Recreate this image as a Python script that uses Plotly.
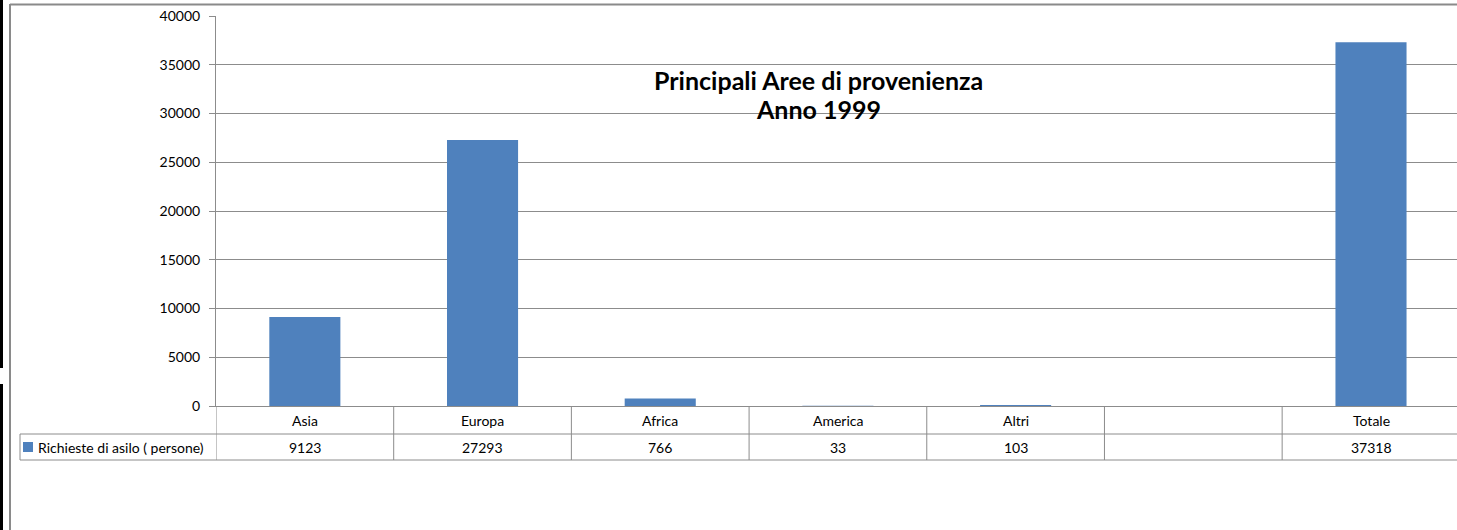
import plotly.graph_objects as go

# ---- data ----
categories = ["Asia", "Europa", "Africa", "America", "Altri", "", "Totale"]
values = [9123, 27293, 766, 33, 103, None, 37318]
value_labels = ["9123", "27293", "766", "33", "103", "", "37318"]
series_name = "Richieste di asilo ( persone)"
title_lines = ["Principali Aree di provenienza", "Anno 1999"]
y_ticks = [0, 5000, 10000, 15000, 20000, 25000, 30000, 35000, 40000]

W, H = 1457, 530
L, T, B = 216, 16, 124
PW = W - L
PH = H - T - B
BLUE = "#4F81BD"
GRID = "#8C8C8C"
FONT = "Lato"


def px_x(p):
    return (p - L) / PW


def px_y(p):
    return (H - B - p) / PH


x_idx = list(range(len(categories)))

fig = go.Figure()
fig.add_trace(go.Bar(
    x=x_idx, y=values, width=0.4, marker_color=BLUE, marker_line_width=0,
    name=series_name, showlegend=False, hoverinfo="skip"))

shapes = []
# table horizontal lines
for yp in (434, 460):
    shapes.append(dict(type="line", xref="paper", yref="paper",
                       x0=px_x(20), x1=1.01, y0=px_y(yp), y1=px_y(yp),
                       line=dict(color=GRID, width=1)))
# table vertical lines
for i in range(len(categories) + 1):
    shapes.append(dict(type="line", xref="x", yref="paper",
                       x0=i - 0.5, x1=i - 0.5, y0=0, y1=px_y(460),
                       line=dict(color=GRID, width=1)))
shapes.append(dict(type="line", xref="paper", yref="paper",
                   x0=px_x(20), x1=px_x(20), y0=px_y(434), y1=px_y(460),
                   line=dict(color=GRID, width=1)))
# legend key square
shapes.append(dict(type="rect", xref="paper", yref="paper",
                   x0=px_x(23), x1=px_x(33), y0=px_y(452), y1=px_y(442),
                   fillcolor=BLUE, line=dict(width=0)))
# chart frame
shapes.append(dict(type="line", xref="paper", yref="paper",
                   x0=px_x(10), x1=px_x(10), y0=px_y(4), y1=px_y(531),
                   line=dict(color="#8A8A8A", width=2)))
shapes.append(dict(type="line", xref="paper", yref="paper",
                   x0=px_x(10), x1=1.01, y0=px_y(4.5), y1=px_y(4.5),
                   line=dict(color="#8A8A8A", width=2)))
# dark strip at the left edge
shapes.append(dict(type="rect", xref="paper", yref="paper",
                   x0=px_x(0), x1=px_x(3), y0=px_y(0), y1=px_y(368),
                   fillcolor="black", line=dict(width=0)))
shapes.append(dict(type="rect", xref="paper", yref="paper",
                   x0=px_x(0), x1=px_x(3), y0=px_y(384), y1=px_y(531),
                   fillcolor="black", line=dict(width=0)))

annotations = []
for i, (c, v) in enumerate(zip(categories, value_labels)):
    annotations.append(dict(x=i, y=px_y(420), xref="x", yref="paper", text=c,
                            showarrow=False, font=dict(family=FONT, size=14, color="black"),
                            xanchor="center", yanchor="middle"))
    annotations.append(dict(x=i, y=px_y(447), xref="x", yref="paper", text=v,
                            showarrow=False, font=dict(family=FONT, size=14, color="black"),
                            xanchor="center", yanchor="middle"))
annotations.append(dict(x=px_x(36), y=px_y(447), xref="paper", yref="paper",
                        text=series_name, showarrow=False,
                        font=dict(family=FONT, size=14, color="black"),
                        xanchor="left", yanchor="middle"))
for k, (line, yc) in enumerate(zip(title_lines, (80, 109))):
    annotations.append(dict(x=px_x(818), y=px_y(yc), xref="paper", yref="paper",
                            text="<b>" + line + "</b>",
                            showarrow=False, align="center",
                            font=dict(family=FONT, size=25, color="black"),
                            xanchor="center", yanchor="middle"))

fig.update_layout(
    width=W, height=H,
    margin=dict(l=L, r=0, t=T, b=B),
    paper_bgcolor="white", plot_bgcolor="white",
    shapes=shapes, annotations=annotations,
    showlegend=False,
    xaxis=dict(range=[-0.5, -0.5 + 6.984], showticklabels=False, showgrid=False,
               zeroline=False, showline=True, linecolor=GRID, linewidth=1,
               ticks="", fixedrange=True),
    yaxis=dict(range=[0, 40000], tickvals=y_ticks, ticktext=[str(t) for t in y_ticks],
               showgrid=True, gridcolor=GRID, gridwidth=1, zeroline=False,
               showline=True, linecolor=GRID, linewidth=1,
               ticks="outside", ticklen=6, tickcolor=GRID,
               tickfont=dict(family=FONT, size=14, color="black"),
               ticklabelstandoff=6, fixedrange=True),
    font=dict(family=FONT),
)

fig.write_html("out.html", config={"displayModeBar": False, "staticPlot": True},
               post_script="document.body.style.margin='0';document.body.style.overflow='hidden';")
